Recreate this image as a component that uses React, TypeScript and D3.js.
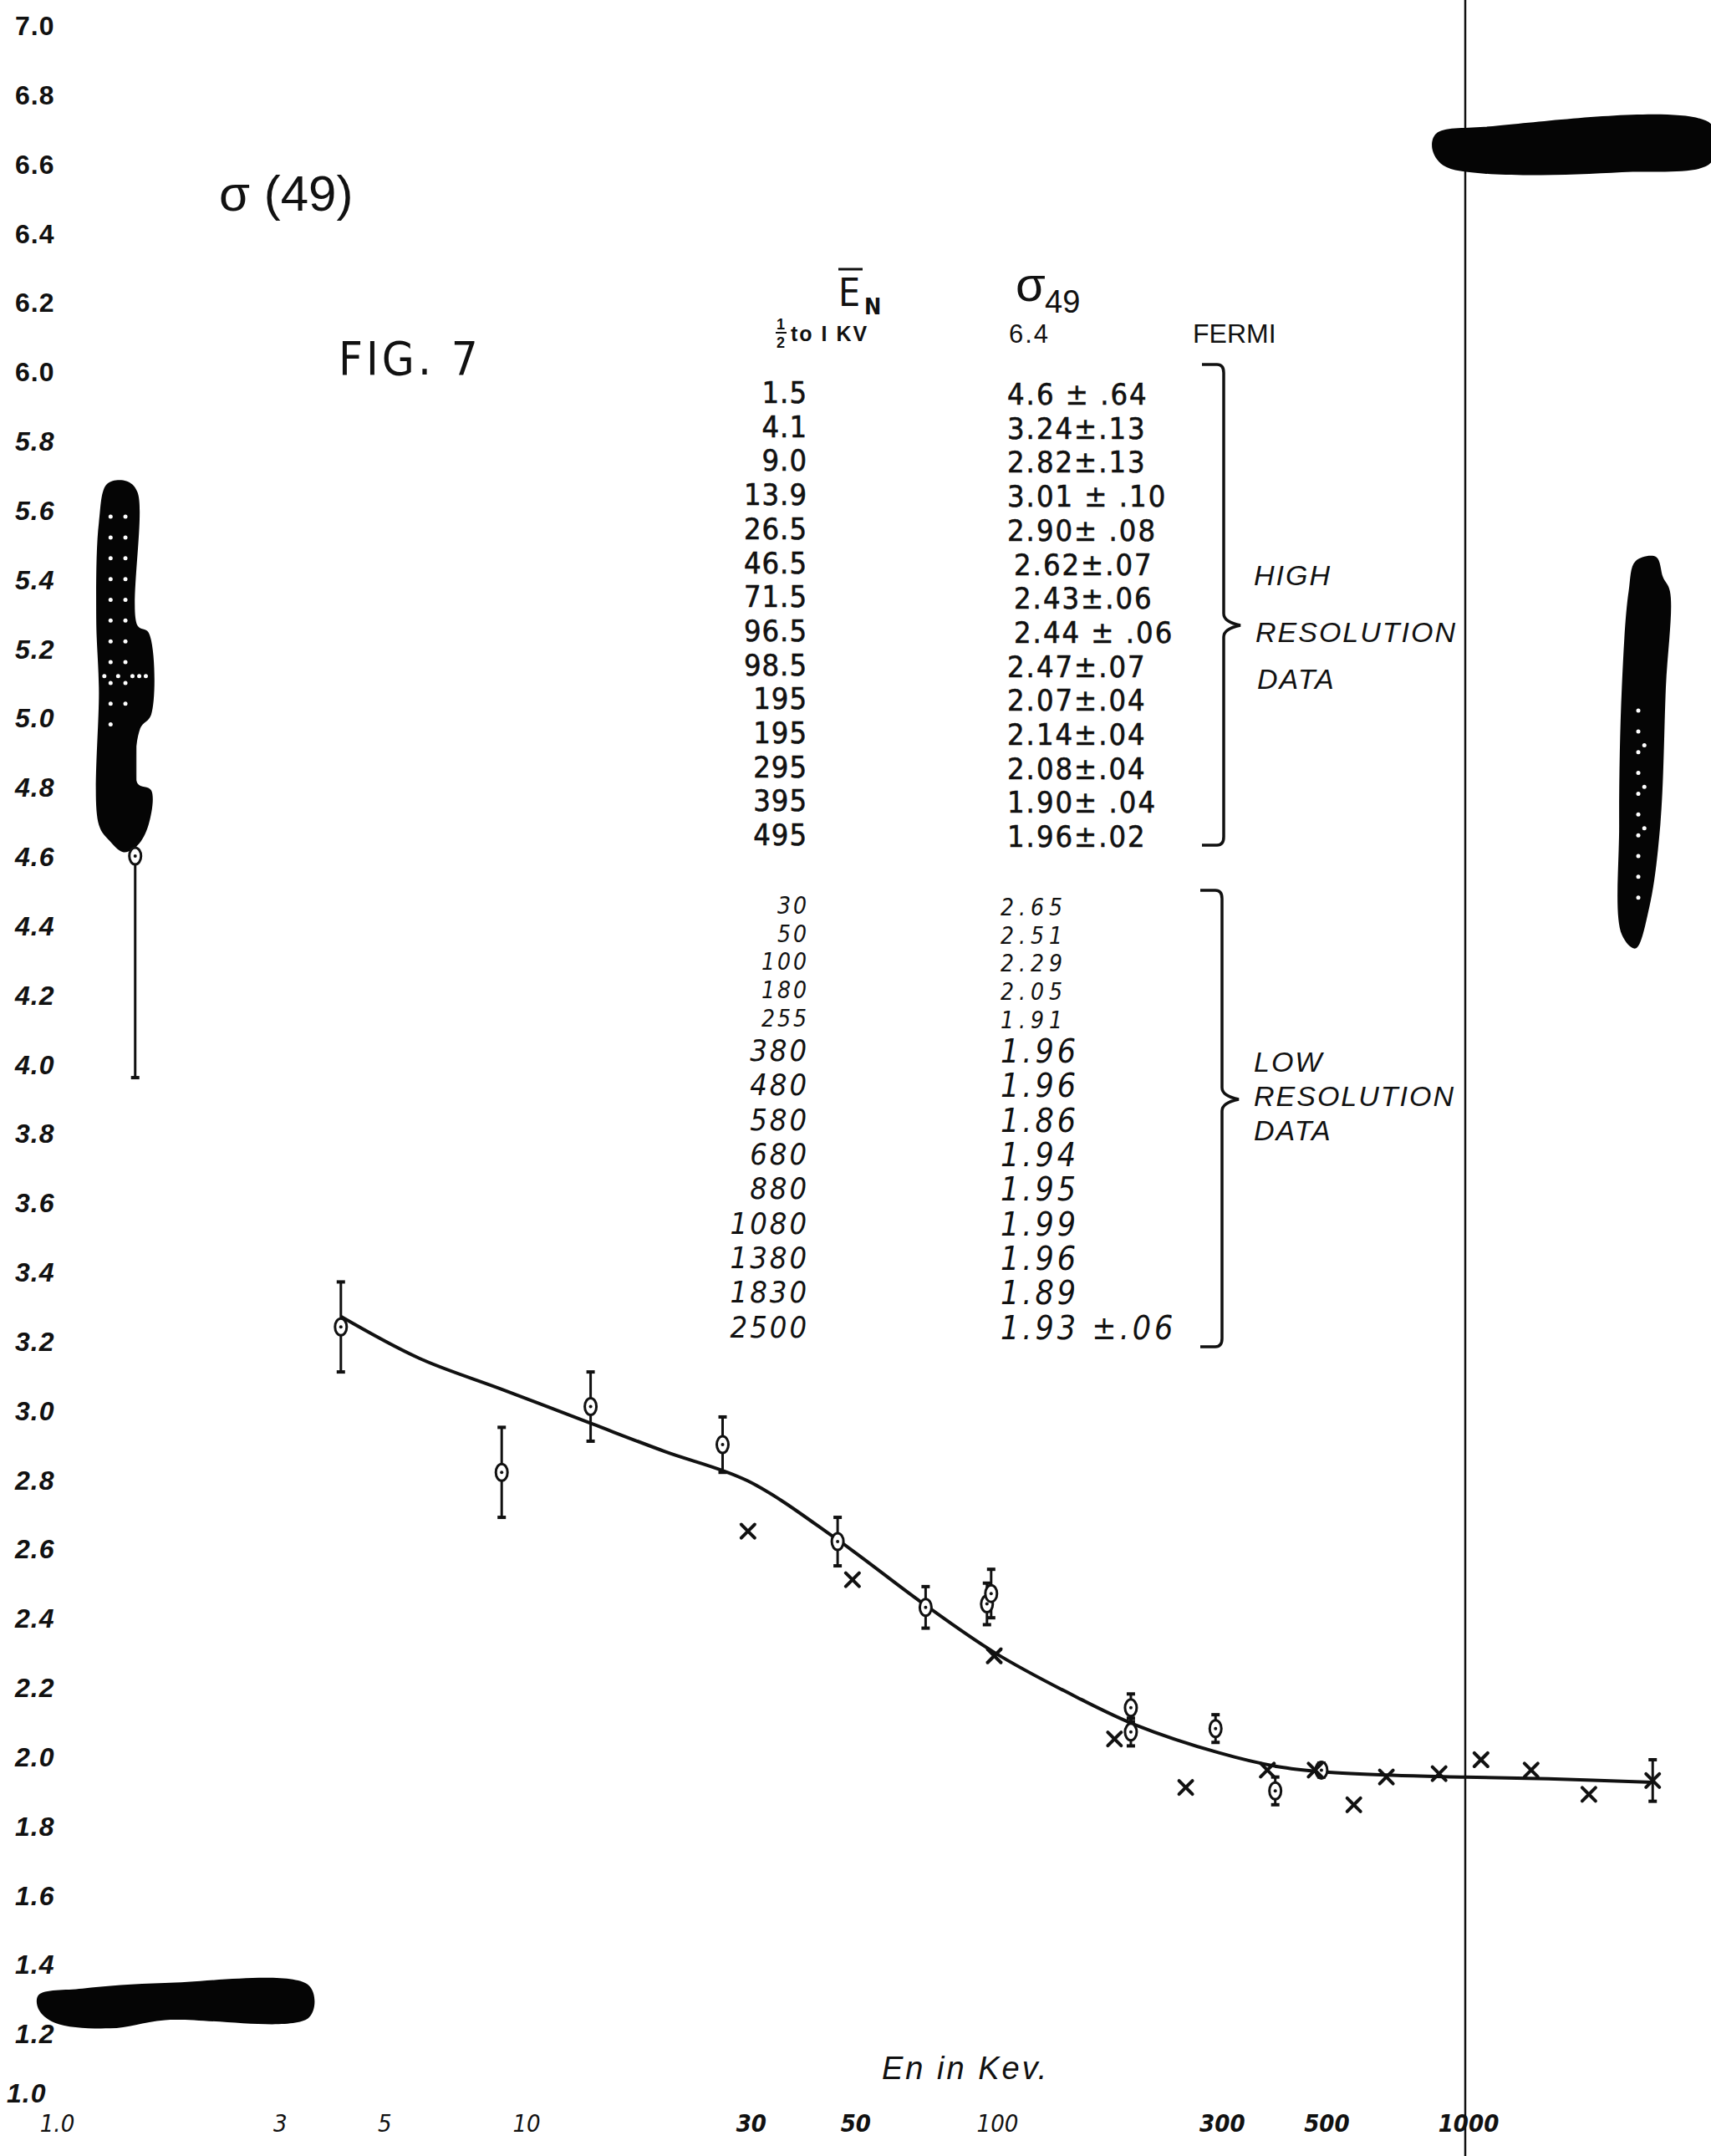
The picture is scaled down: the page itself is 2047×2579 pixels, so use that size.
import React, { useEffect } from "react";
import * as d3 from "d3";

const W = 2047;
const H = 2579;

// ---- data ----
const hiEnergy = [1.5, 4.1, 9.0, 13.9, 26.5, 46.5, 71.5, 96.5, 98.5, 195, 195, 295, 395, 495];
const hiSigma = [4.6, 3.24, 2.82, 3.01, 2.9, 2.62, 2.43, 2.44, 2.47, 2.07, 2.14, 2.08, 1.9, 1.96];
const hiErr = [0.64, 0.13, 0.13, 0.1, 0.08, 0.07, 0.06, 0.06, 0.07, 0.04, 0.04, 0.04, 0.04, 0.02];
const hiELabels = ["1.5", "4.1", "9.0", "13.9", "26.5", "46.5", "71.5", "96.5", "98.5", "195", "195", "295", "395", "495"];
const hiSLabels = ["4.6 ± .64", "3.24±.13", "2.82±.13", "3.01 ± .10", "2.90± .08", "2.62±.07", "2.43±.06", "2.44 ± .06", "2.47±.07", "2.07±.04", "2.14±.04", "2.08±.04", "1.90± .04", "1.96±.02"];

const loEnergy = [30, 50, 100, 180, 255, 380, 480, 580, 680, 880, 1080, 1380, 1830, 2500];
const loSigma = [2.65, 2.51, 2.29, 2.05, 1.91, 1.96, 1.96, 1.86, 1.94, 1.95, 1.99, 1.96, 1.89, 1.93];
const loErr = [0, 0, 0, 0, 0, 0, 0, 0, 0, 0, 0, 0, 0, 0.06];
const loELabels = ["30", "50", "100", "180", "255", "380", "480", "580", "680", "880", "1080", "1380", "1830", "2500"];
const loSLabels = ["2.65", "2.51", "2.29", "2.05", "1.91", "1.96", "1.96", "1.86", "1.94", "1.95", "1.99", "1.96", "1.89", "1.93 ±.06"];

// smooth fitted curve
const curveE = [4.1, 6, 9, 14, 20, 30, 46.5, 70, 100, 150, 200, 300, 400, 500, 700, 1000, 1500, 2500];
const curveS = [3.27, 3.15, 3.06, 2.96, 2.88, 2.795, 2.625, 2.445, 2.3, 2.17, 2.09, 2.01, 1.97, 1.955, 1.945, 1.94, 1.935, 1.925];

const xTickValues = [1, 3, 5, 10, 30, 50, 100, 300, 500, 1000];
const xTickLabels = ["1.0", "3", "5", "10", "30", "50", "100", "300", "500", "1000"];
const yTickValues = d3.range(10, 71, 2).map((v) => v / 10);

// redaction blots, in data units [E, sigma]
const blotLeft: [number, number][] = [
  [1.308, 5.675], [1.437, 5.683], [1.517, 5.651], [1.517, 5.266], [1.601, 5.246], [1.622, 5.008],
  [1.537, 4.968], [1.517, 4.81], [1.622, 4.79], [1.601, 4.69], [1.517, 4.631], [1.418, 4.611],
  [1.326, 4.643], [1.256, 4.69], [1.256, 5.087], [1.24, 5.286], [1.256, 5.563],
];
const blotBottom: [number, number][] = [
  [0.935, 1.31], [1.159, 1.329], [1.735, 1.345], [3.513, 1.337], [3.513, 1.246], [1.735, 1.238],
  [1.326, 1.214], [1.0135, 1.23], [0.935, 1.27],
];
const blotTopRight: [number, number][] = [
  [867.9, 6.687], [1098, 6.706], [3327, 6.714], [3327, 6.603], [2150, 6.575], [1098, 6.571],
  [897.4, 6.595], [850.7, 6.643],
];
const blotRight: [number, number][] = [
  [2299, 5.452], [2543, 5.464], [2630, 5.405], [2720, 5.365], [2666, 5.087], [2595, 4.69],
  [2459, 4.452], [2299, 4.333], [2150, 4.373], [2122, 4.69], [2150, 5.087], [2223, 5.365],
];
// white specks visible inside the blots [E, sigma]
const blotDotsLeft: [number, number][] = [
  [1.33, 5.58], [1.33, 5.52], [1.33, 5.46], [1.33, 5.40], [1.33, 5.34], [1.33, 5.28], [1.33, 5.22],
  [1.33, 5.16], [1.33, 5.10], [1.33, 5.04], [1.33, 4.98],
  [1.43, 5.58], [1.43, 5.52], [1.43, 5.46], [1.43, 5.40], [1.43, 5.34], [1.43, 5.28], [1.43, 5.22],
  [1.43, 5.16], [1.43, 5.10], [1.43, 5.04],
  [1.29, 5.12], [1.38, 5.12], [1.48, 5.12], [1.53, 5.12], [1.58, 5.12],
];
const blotDotsRight: [number, number][] = [
  [2330, 5.02], [2330, 4.96], [2330, 4.90], [2330, 4.84], [2330, 4.78], [2330, 4.72], [2330, 4.66],
  [2330, 4.60], [2330, 4.54], [2330, 4.48], [2400, 4.92], [2400, 4.80], [2400, 4.68],
];

const x = d3.scaleLog().domain([1, 1000]).range([62.5, 1753]);
const y = d3.scaleLinear().domain([1, 7]).range([2515, 30]);

const INK = "#111";
const HAND = "'Liberation Sans Narrow', 'DejaVu Sans Condensed', 'Liberation Sans', sans-serif";
const SANS = "'Liberation Sans', 'DejaVu Sans', sans-serif";

function CircleMark({ cx, cy }: { cx: number; cy: number }) {
  return (
    <g>
      <ellipse cx={cx} cy={cy} rx={7} ry={10} fill="#fff" stroke={INK} strokeWidth={3} />
      <circle cx={cx} cy={cy} r={2} fill={INK} />
    </g>
  );
}

function XMark({ cx, cy }: { cx: number; cy: number }) {
  const s = 8;
  return (
    <g stroke={INK} strokeWidth={4} strokeLinecap="round">
      <line x1={cx - s} y1={cy - s} x2={cx + s} y2={cy + s} />
      <line x1={cx - s} y1={cy + s} x2={cx + s} y2={cy - s} />
    </g>
  );
}

function ErrBar({ e, s, err }: { e: number; s: number; err: number }) {
  const cx = x(e);
  return (
    <g stroke={INK} strokeWidth={3}>
      <line x1={cx} x2={cx} y1={y(s - err)} y2={y(s + err)} />
      <line x1={cx - 5} x2={cx + 5} y1={y(s - err)} y2={y(s - err)} strokeWidth={4} />
      <line x1={cx - 5} x2={cx + 5} y1={y(s + err)} y2={y(s + err)} strokeWidth={4} />
    </g>
  );
}

function bracePath(x0: number, yTop: number, yBot: number, yTip: number) {
  const xv = x0 + 26;
  return `M${x0},${yTop} L${xv - 8},${yTop} Q${xv},${yTop} ${xv},${yTop + 10} L${xv},${yTip - 14} Q${xv},${yTip - 4} ${xv + 20},${yTip} Q${xv},${yTip + 4} ${xv},${yTip + 14} L${xv},${yBot - 10} Q${xv},${yBot} ${xv - 8},${yBot} L${x0},${yBot}`;
}

export default function App() {
  useEffect(() => {
    document.body.style.margin = "0";
    document.body.style.background = "#fff";
  }, []);

  const blotLine = d3
    .line<[number, number]>()
    .x((d) => x(d[0]))
    .y((d) => y(d[1]))
    .curve(d3.curveCatmullRomClosed.alpha(0.5));

  const fitLine = d3
    .line<number>()
    .x((_, i) => x(curveE[i]))
    .y((d) => y(d))
    .curve(d3.curveCatmullRom.alpha(0.5));

  const hiRow0 = 482;
  const hiStep = 40.7;
  const loRowY = (i: number) => (i <= 4 ? 1093 + i * 33.7 : 1093 + 4 * 33.7 + (i - 4) * 41.3);
  const loSize = (i: number) => (i <= 4 ? 28 : 36);

  return (
    <svg width={W} height={H} viewBox={`0 0 ${W} ${H}`} style={{ display: "block", background: "#fff" }}>
      <rect x={0} y={0} width={W} height={H} fill="#fff" />

      {/* 1000 KeV vertical rule */}
      <line x1={x(1000)} x2={x(1000)} y1={0} y2={H} stroke={INK} strokeWidth={2.5} />

      {/* y-axis labels */}
      {yTickValues.map((v) => (
        <text
          key={"y" + v}
          x={v === 1 ? 8 : 18}
          y={y(v) + (v === 1 ? 0 : 12)}
          fontFamily={SANS}
          fontSize={32}
          fontStyle={v < 6 ? "italic" : "normal"}
          fontWeight="bold"
          letterSpacing={1}
          fill={INK}
        >
          {v.toFixed(1)}
        </text>
      ))}

      {/* x-axis labels */}
      {xTickValues.map((v, i) => (
        <text
          key={"x" + v}
          x={x(v) + (i === 0 ? 6 : 4)}
          y={2550}
          textAnchor="middle"
          fontFamily={HAND}
          fontStyle="italic"
          fontSize={29}
          fontWeight={v >= 30 && v !== 100 ? "bold" : "normal"}
          fill={INK}
        >
          {xTickLabels[i]}
        </text>
      ))}

      <text x={1055} y={2487} fontFamily={SANS} fontStyle="italic" fontSize={38} letterSpacing={3} fill={INK}>
        En in Kev.
      </text>

      {/* titles */}
      <text x={262} y={252} fontFamily={SANS} fontSize={60} fill={INK}>
        σ (49)
      </text>
      <text x={405} y={448} fontFamily={HAND} fontSize={56} letterSpacing={4} fill={INK}>
        FIG. 7
      </text>

      {/* table headers */}
      <text x={1003} y={366} fontFamily={HAND} fontSize={46} fill={INK}>E</text>
      <line x1={1003} x2={1032} y1={322} y2={322} stroke={INK} strokeWidth={3} />
      <text x={1034} y={376} fontFamily={HAND} fontSize={27} fontWeight="bold" fill={INK}>N</text>
      <text x={1215} y={360} fontFamily={SANS} fontSize={58} fill={INK}>σ</text>
      <text x={1250} y={374} fontFamily={SANS} fontSize={38} fill={INK}>49</text>

      <text x={929} y={394} fontFamily={SANS} fontSize={18} fontWeight="bold" fill={INK}>1</text>
      <line x1={928} x2={941} y1={398} y2={398} stroke={INK} strokeWidth={2} />
      <text x={929} y={416} fontFamily={SANS} fontSize={18} fontWeight="bold" fill={INK}>2</text>
      <text x={946} y={408} fontFamily={SANS} fontSize={25} fontWeight="bold" letterSpacing={2} fill={INK}>to I KV</text>
      <text x={1207} y={410} fontFamily={SANS} fontSize={31} letterSpacing={2} fill={INK}>6.4</text>
      <text x={1427} y={410} fontFamily={SANS} fontSize={32} fill={INK}>FERMI</text>

      {/* high resolution rows */}
      {hiELabels.map((t, i) => (
        <text key={"he" + i} x={966} y={hiRow0 + i * hiStep} textAnchor="end" fontFamily={HAND} fontSize={36} letterSpacing={1} fill={INK} stroke={INK} strokeWidth={0.6}>
          {t}
        </text>
      ))}
      {hiSLabels.map((t, i) => (
        <text key={"hs" + i} x={1205 + (i >= 5 && i <= 7 ? 8 : 0)} y={hiRow0 + i * hiStep + 2} fontFamily={HAND} fontSize={36} letterSpacing={2} fill={INK} stroke={INK} strokeWidth={0.6}>
          {t}
        </text>
      ))}

      {/* low resolution rows */}
      {loELabels.map((t, i) => (
        <text key={"le" + i} x={968} y={loRowY(i)} textAnchor="end" fontFamily={HAND} fontStyle="italic" fontSize={loSize(i)} letterSpacing={3} fill={INK}>
          {t}
        </text>
      ))}
      {loSLabels.map((t, i) => (
        <text key={"ls" + i} x={1197} y={loRowY(i) + 2} fontFamily={HAND} fontStyle="italic" fontSize={loSize(i) + (i <= 4 ? 0 : 3)} letterSpacing={i <= 4 ? 6 : 4} fill={INK}>
          {t}
        </text>
      ))}

      {/* braces */}
      <path d={bracePath(1438, 436, 1011, 748)} fill="none" stroke={INK} strokeWidth={3.5} />
      <path d={bracePath(1436, 1065, 1611, 1315)} fill="none" stroke={INK} strokeWidth={3.5} />

      <g fontFamily={SANS} fontStyle="italic" fontSize={34} letterSpacing={2} fill={INK}>
        <text x={1500} y={700}>HIGH</text>
        <text x={1502} y={768}>RESOLUTION</text>
        <text x={1504} y={824}>DATA</text>
        <text x={1500} y={1282}>LOW</text>
        <text x={1500} y={1323}>RESOLUTION</text>
        <text x={1500} y={1364}>DATA</text>
      </g>

      {/* fitted curve */}
      <path d={fitLine(curveS) || ""} fill="none" stroke={INK} strokeWidth={4} />

      {/* error bars */}
      {hiEnergy.map((e, i) => (
        <ErrBar key={"hb" + i} e={e} s={hiSigma[i]} err={hiErr[i]} />
      ))}
      {loEnergy.map((e, i) => (loErr[i] > 0 ? <ErrBar key={"lb" + i} e={e} s={loSigma[i]} err={loErr[i]} /> : null))}

      {/* redaction blots */}
      {[blotLeft, blotBottom, blotTopRight, blotRight].map((b, i) => (
        <path key={"blot" + i} d={blotLine(b) || ""} fill="#050505" />
      ))}
      {[...blotDotsLeft, ...blotDotsRight].map((d, i) => (
        <circle key={"bd" + i} cx={x(d[0])} cy={y(d[1])} r={2.5} fill="#fff" />
      ))}

      {/* markers */}
      {hiEnergy.map((e, i) => (
        <CircleMark key={"hc" + i} cx={x(e)} cy={y(hiSigma[i])} />
      ))}
      {loEnergy.map((e, i) => (
        <XMark key={"lx" + i} cx={x(e)} cy={y(loSigma[i])} />
      ))}
    </svg>
  );
}
